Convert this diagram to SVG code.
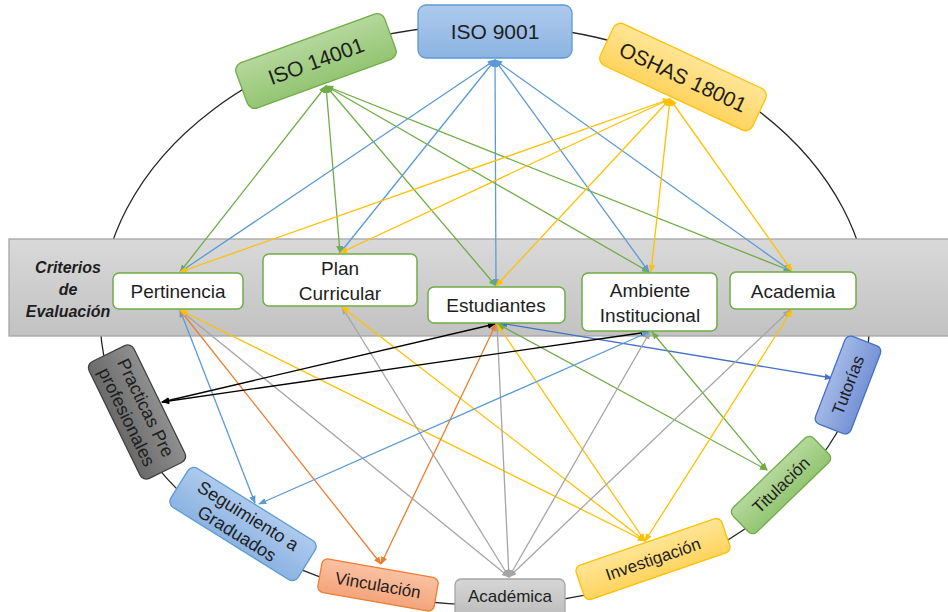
<svg xmlns="http://www.w3.org/2000/svg" width="948" height="612" viewBox="0 0 948 612">
<defs>
<linearGradient id="gGreen" x1="0" y1="0" x2="0" y2="1"><stop offset="0" stop-color="#b5d89c"/><stop offset="1" stop-color="#93c572"/></linearGradient>
<linearGradient id="gBlue" x1="0" y1="0" x2="0" y2="1"><stop offset="0" stop-color="#aecaed"/><stop offset="1" stop-color="#8cb3e2"/></linearGradient>
<linearGradient id="gYellow" x1="0" y1="0" x2="0" y2="1"><stop offset="0" stop-color="#ffe596"/><stop offset="1" stop-color="#ffd45e"/></linearGradient>
<linearGradient id="gGray" x1="0" y1="0" x2="0" y2="1"><stop offset="0" stop-color="#d6d6d6"/><stop offset="1" stop-color="#bcbcbc"/></linearGradient>
<linearGradient id="gDark" x1="0" y1="0" x2="0" y2="1"><stop offset="0" stop-color="#8f8f8f"/><stop offset="1" stop-color="#6a6a6a"/></linearGradient>
<linearGradient id="gOrange" x1="0" y1="0" x2="0" y2="1"><stop offset="0" stop-color="#f9c2a3"/><stop offset="1" stop-color="#f4a47a"/></linearGradient>
<linearGradient id="gTut" x1="0" y1="0" x2="0" y2="1"><stop offset="0" stop-color="#a2b8e6"/><stop offset="1" stop-color="#7693d6"/></linearGradient>
<linearGradient id="gBand" x1="0" y1="0" x2="0" y2="1"><stop offset="0" stop-color="#d9d9d9"/><stop offset="1" stop-color="#c2c2c2"/></linearGradient>
<marker id="mG" viewBox="0 0 10 10" refX="9" refY="5" markerWidth="8" markerHeight="8" markerUnits="userSpaceOnUse" orient="auto-start-reverse"><path d="M0,1 L10,5 L0,9 z" fill="#70ad47"/></marker>
<marker id="mB" viewBox="0 0 10 10" refX="9" refY="5" markerWidth="8" markerHeight="8" markerUnits="userSpaceOnUse" orient="auto-start-reverse"><path d="M0,1 L10,5 L0,9 z" fill="#5b9bd5"/></marker>
<marker id="mD" viewBox="0 0 10 10" refX="9" refY="5" markerWidth="8" markerHeight="8" markerUnits="userSpaceOnUse" orient="auto-start-reverse"><path d="M0,1 L10,5 L0,9 z" fill="#4472c4"/></marker>
<marker id="mY" viewBox="0 0 10 10" refX="9" refY="5" markerWidth="8" markerHeight="8" markerUnits="userSpaceOnUse" orient="auto-start-reverse"><path d="M0,1 L10,5 L0,9 z" fill="#ffc000"/></marker>
<marker id="mA" viewBox="0 0 10 10" refX="9" refY="5" markerWidth="8" markerHeight="8" markerUnits="userSpaceOnUse" orient="auto-start-reverse"><path d="M0,1 L10,5 L0,9 z" fill="#a5a5a5"/></marker>
<marker id="mO" viewBox="0 0 10 10" refX="9" refY="5" markerWidth="8" markerHeight="8" markerUnits="userSpaceOnUse" orient="auto-start-reverse"><path d="M0,1 L10,5 L0,9 z" fill="#ed7d31"/></marker>
<marker id="mK" viewBox="0 0 10 10" refX="9" refY="5" markerWidth="8" markerHeight="8" markerUnits="userSpaceOnUse" orient="auto-start-reverse"><path d="M0,1 L10,5 L0,9 z" fill="#000000"/></marker>
</defs>
<style>
.t{font-family:"Liberation Sans",Arial,sans-serif;fill:#1e1e1e;text-anchor:middle}
.c line{fill:none;stroke-width:1.3}
.g{stroke:#70ad47;marker-start:url(#mG);marker-end:url(#mG)}
.b{stroke:#5b9bd5;marker-start:url(#mB);marker-end:url(#mB)}
.d{stroke:#4472c4;marker-start:url(#mD);marker-end:url(#mD)}
.y{stroke:#ffc000;marker-start:url(#mY);marker-end:url(#mY)}
.a{stroke:#a5a5a5;marker-start:url(#mA);marker-end:url(#mA)}
.o{stroke:#ed7d31;marker-start:url(#mO);marker-end:url(#mO)}
.k{stroke:#000000;marker-start:url(#mK);marker-end:url(#mK)}
.wn{fill:#ffffff;stroke:#70ad47;stroke-width:1.5}
.ng{fill:url(#gGreen);stroke:#70ad47;stroke-width:1.3}
.nb{fill:url(#gBlue);stroke:#5b9bd5;stroke-width:1.3}
.ny{fill:url(#gYellow);stroke:#ffc000;stroke-width:1.3}
.na{fill:url(#gGray);stroke:#a5a5a5;stroke-width:1.3}
.nk{fill:url(#gDark);stroke:#404040;stroke-width:1.3}
.no{fill:url(#gOrange);stroke:#ed7d31;stroke-width:1.3}
.nt{fill:url(#gTut);stroke:#4472c4;stroke-width:1.3}
</style>
<rect width="948" height="612" fill="#ffffff"/>
<ellipse id="ring" cx="485" cy="315" rx="385" ry="290" fill="none" stroke="#262626" stroke-width="1.3"/>
<g id="band">
<rect x="9" y="239" width="945" height="97" fill="url(#gBand)" stroke="#a6a6a6" stroke-width="1.3"/>
<text class="t" font-size="16" font-weight="bold" font-style="italic" x="68" y="273">Criterios</text>
<text class="t" font-size="16" font-weight="bold" font-style="italic" x="68" y="295">de</text>
<text class="t" font-size="16" font-weight="bold" font-style="italic" x="68" y="317">Evaluación</text>
</g>
<g id="connectors" class="c">
<line class="g" x1="326" y1="86" x2="180" y2="272"/>
<line class="g" x1="326" y1="86" x2="340" y2="253"/>
<line class="g" x1="326" y1="86" x2="496" y2="286"/>
<line class="g" x1="326" y1="86" x2="649" y2="272"/>
<line class="g" x1="326" y1="86" x2="791" y2="271"/>
<line class="b" x1="495" y1="60" x2="180" y2="272"/>
<line class="b" x1="495" y1="60" x2="340" y2="253"/>
<line class="b" x1="495" y1="60" x2="496" y2="286"/>
<line class="b" x1="495" y1="60" x2="649" y2="272"/>
<line class="b" x1="495" y1="60" x2="791" y2="271"/>
<line class="y" x1="670" y1="99" x2="180" y2="272"/>
<line class="y" x1="670" y1="99" x2="340" y2="253"/>
<line class="y" x1="670" y1="99" x2="496" y2="286"/>
<line class="y" x1="670" y1="99" x2="651" y2="272"/>
<line class="y" x1="670" y1="99" x2="792" y2="271"/>
<line class="b" x1="180" y1="310" x2="255" y2="503"/>
<line class="o" x1="180" y1="310" x2="381" y2="564"/>
<line class="a" x1="180" y1="310" x2="509" y2="577"/>
<line class="y" x1="180" y1="310" x2="645" y2="541"/>
<line class="a" x1="342" y1="307" x2="509" y2="577"/>
<line class="y" x1="342" y1="307" x2="645" y2="541"/>
<line class="k" x1="495" y1="324" x2="162" y2="402"/>
<line class="o" x1="496" y1="324" x2="381" y2="564"/>
<line class="a" x1="497" y1="324" x2="509" y2="577"/>
<line class="y" x1="497" y1="324" x2="645" y2="541"/>
<line class="g" x1="498" y1="324" x2="767" y2="470"/>
<line class="d" x1="500" y1="323" x2="832" y2="378"/>
<line class="k" x1="648" y1="332" x2="162" y2="402"/>
<line class="b" x1="649" y1="332" x2="259" y2="504"/>
<line class="a" x1="650" y1="332" x2="509" y2="577"/>
<line class="g" x1="652" y1="332" x2="767" y2="470"/>
<line class="a" x1="790" y1="310" x2="509" y2="577"/>
<line class="y" x1="792" y1="310" x2="645" y2="541"/>
</g>
<g id="iso9001"><rect class="nb" x="418" y="5" width="154" height="53" rx="8"/><text class="t" font-size="21" x="495" y="39">ISO 9001</text></g>
<g id="iso14001" transform="translate(316,61) rotate(-20)"><rect class="ng" x="-79" y="-24" width="158" height="48" rx="8"/><text class="t" font-size="21" x="0" y="7.5">ISO 14001</text></g>
<g id="oshas18001" transform="translate(683,77) rotate(25)"><rect class="ny" x="-84" y="-23" width="168" height="46" rx="8"/><text class="t" font-size="21" x="0" y="7.5">OSHAS 18001</text></g>
<g id="pertinencia"><rect class="wn" x="113" y="273" width="130" height="36" rx="6"/><text class="t" font-size="19" x="178" y="298">Pertinencia</text></g>
<g id="plan"><rect class="wn" x="263" y="254" width="154" height="52" rx="6"/><text class="t" font-size="19" x="340" y="275">Plan</text><text class="t" font-size="19" x="340" y="300">Curricular</text></g>
<g id="estudiantes"><rect class="wn" x="428" y="287" width="137" height="36" rx="6"/><text class="t" font-size="19" x="496" y="312">Estudiantes</text></g>
<g id="ambiente"><rect class="wn" x="582" y="273" width="135" height="58" rx="6"/><text class="t" font-size="19" x="650" y="297">Ambiente</text><text class="t" font-size="19" x="650" y="322">Institucional</text></g>
<g id="academia"><rect class="wn" x="730" y="272" width="126" height="37" rx="6"/><text class="t" font-size="19" x="793" y="298">Academia</text></g>
<g id="practicas" transform="translate(137,412) rotate(64)"><rect class="nk" x="-65" y="-25" width="130" height="50" rx="7"/><text class="t" font-size="18" x="0" y="-3.5">Practicas Pre</text><text class="t" font-size="18" x="0" y="17.5">profesionales</text></g>
<g id="seguimiento" transform="translate(243,524) rotate(32)"><rect class="nb" x="-75" y="-23" width="150" height="46" rx="7"/><text class="t" font-size="18" x="0" y="-3.5">Seguimiento a</text><text class="t" font-size="18" x="0" y="17.5">Graduados</text></g>
<g id="vinculacion" transform="translate(378,585) rotate(10)"><rect class="no" x="-59" y="-17" width="118" height="34" rx="6"/><text class="t" font-size="17" x="0" y="6">Vinculación</text></g>
<g id="academica"><rect class="na" x="455" y="579" width="110" height="38" rx="6"/><text class="t" font-size="17" x="510" y="602">Académica</text></g>
<g id="investigacion" transform="translate(653,559) rotate(-19)"><rect class="ny" x="-77" y="-18" width="154" height="36" rx="6"/><text class="t" font-size="17" x="0" y="6">Investigación</text></g>
<g id="titulacion" transform="translate(781,485) rotate(-44)"><rect class="ng" x="-56" y="-17" width="112" height="34" rx="6"/><text class="t" font-size="17" x="0" y="6">Titulación</text></g>
<g id="tutorias" transform="translate(848,385) rotate(-69)"><rect class="nt" x="-47" y="-19" width="94" height="38" rx="6"/><text class="t" font-size="17" x="0" y="6">Tutorías</text></g>
</svg>
